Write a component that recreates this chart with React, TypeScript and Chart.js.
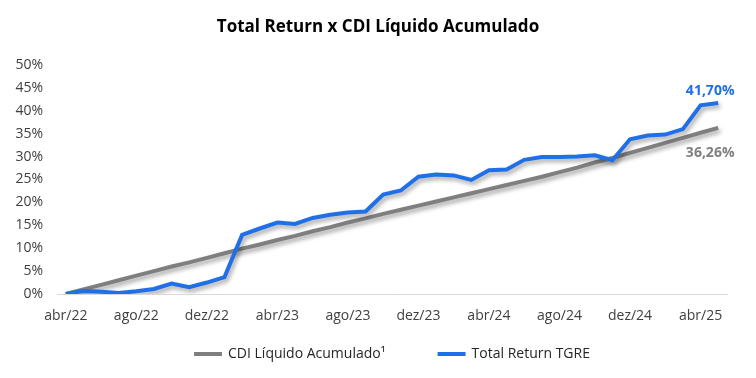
import React, { useEffect, useRef } from "react";
import { Chart, registerables } from "chart.js";

Chart.register(...registerables);

const months = [
  "abr/22","mai/22","jun/22","jul/22","ago/22","set/22","out/22","nov/22","dez/22",
  "jan/23","fev/23","mar/23","abr/23","mai/23","jun/23","jul/23","ago/23","set/23","out/23","nov/23","dez/23",
  "jan/24","fev/24","mar/24","abr/24","mai/24","jun/24","jul/24","ago/24","set/24","out/24","nov/24","dez/24",
  "jan/25","fev/25","mar/25","abr/25","mai/25",
];

const cdiLiquido = [
  0, 1.0, 2.0, 3.0, 4.0, 5.0, 6.0, 6.9, 7.9, 8.9,
  9.9, 10.8, 11.8, 12.7, 13.7, 14.6, 15.6, 16.5, 17.5, 18.4,
  19.3, 20.2, 21.1, 22.0, 22.9, 23.8, 24.7, 25.6, 26.6, 27.6,
  28.7, 29.7, 30.8, 31.9, 33.0, 34.1, 35.2, 36.26,
];

const totalReturn = [
  0, 0.7, 0.5, 0.2, 0.6, 1.1, 2.3, 1.5, 2.5, 3.7,
  12.9, 14.3, 15.6, 15.3, 16.6, 17.3, 17.8, 18.0, 21.7, 22.6,
  25.6, 26.1, 25.9, 24.9, 27.0, 27.2, 29.3, 29.9, 29.9, 30.0,
  30.3, 29.2, 33.8, 34.6, 34.8, 36.0, 41.2, 41.7,
];

const titleText = "Total Return x CDI Líquido Acumulado";
const seriesNames = ["CDI Líquido Acumulado¹", "Total Return TGRE"];
const endLabels = ["36,26%", "41,70%"];
const colors = ["#7F7F7F", "#1F6FE8"];

const FONT = "'Open Sans', 'Noto Sans', sans-serif";

export default function App() {
  const ref = useRef<HTMLCanvasElement | null>(null);

  useEffect(() => {
    if (!ref.current) return;

    const shadowPlugin = {
      id: "shadow",
      beforeDatasetsDraw(chart: any) {
        const ctx = chart.ctx;
        ctx.save();
        ctx.shadowColor = "rgba(0,0,0,0.35)";
        ctx.shadowBlur = 4;
        ctx.shadowOffsetX = 2;
        ctx.shadowOffsetY = 3;
      },
      afterDatasetsDraw(chart: any) {
        chart.ctx.restore();
      },
    };

    const decorPlugin = {
      id: "decor",
      afterDraw(chart: any) {
        const ctx = chart.ctx;
        const area = chart.chartArea;
        ctx.save();
        // title
        ctx.font = `bold 17px ${FONT}`;
        ctx.fillStyle = "#000";
        ctx.textAlign = "center";
        ctx.textBaseline = "middle";
        ctx.fillText(titleText, chart.width / 2, 27);

        // end labels
        const xs = chart.scales.x;
        const ys = chart.scales.y;
        const last = months.length - 1;
        const lx = xs.getPixelForValue(last) - 8;
        ctx.font = `bold 14px ${FONT}`;
        ctx.fillStyle = colors[1];
        ctx.fillText(endLabels[1], lx, ys.getPixelForValue(totalReturn[last]) - 12);
        ctx.fillStyle = colors[0];
        ctx.fillText(endLabels[0], lx, ys.getPixelForValue(cdiLiquido[last]) + 25);

        // legend
        ctx.font = `14px ${FONT}`;
        const lineLen = 28;
        const gapText = 6;
        const gapItems = 52;
        const widths = seriesNames.map((n) => ctx.measureText(n).width);
        const total = widths.reduce((a, w) => a + lineLen + gapText + w, 0) + gapItems;
        let x = (area.left + area.right) / 2 - total / 2;
        const y = 354;
        ctx.textAlign = "left";
        seriesNames.forEach((n, i) => {
          ctx.strokeStyle = colors[i];
          ctx.lineWidth = 4;
          ctx.lineCap = "butt";
          ctx.beginPath();
          ctx.moveTo(x, y);
          ctx.lineTo(x + lineLen, y);
          ctx.stroke();
          ctx.fillStyle = "#262626";
          ctx.fillText(n, x + lineLen + gapText, y);
          x += lineLen + gapText + widths[i] + gapItems;
        });
        ctx.restore();
      },
    };

    const chart = new Chart(ref.current, {
      type: "line",
      data: {
        labels: months,
        datasets: [
          {
            label: seriesNames[0],
            data: cdiLiquido,
            borderColor: colors[0],
            backgroundColor: colors[0],
            borderWidth: 4,
            pointRadius: 0,
            tension: 0,
            order: 1,
          },
          {
            label: seriesNames[1],
            data: totalReturn,
            borderColor: colors[1],
            backgroundColor: colors[1],
            borderWidth: 4,
            pointRadius: 0,
            tension: 0,
            order: 0,
          },
        ],
      },
      options: {
        animation: false,
        responsive: true,
        maintainAspectRatio: false,
        layout: { padding: { top: 65, right: 29, bottom: 44, left: 0 } },
        plugins: {
          legend: { display: false },
          title: { display: false },
          tooltip: { enabled: false },
        },
        scales: {
          x: {
            offset: true,
            grid: { display: false, drawTicks: false },
            border: { display: true, color: "#D9D9D9", width: 1 },
            afterFit: (s: any) => { s.height = 40; },
            ticks: {
              autoSkip: false,
              maxRotation: 0,
              padding: 14,
              color: "#404040",
              font: { family: FONT, size: 14 },
              callback: (_v: any, i: number) => (i % 4 === 0 ? months[i] : ""),
            },
          },
          y: {
            min: 0,
            max: 50,
            grid: { display: false, drawTicks: false },
            border: { display: false },
            afterFit: (s: any) => { s.width = 57; },
            ticks: {
              stepSize: 5,
              padding: 14,
              color: "#404040",
              font: { family: FONT, size: 14 },
              callback: (v: any) => `${v}%`,
            },
          },
        },
      },
      plugins: [shadowPlugin, decorPlugin],
    });

    return () => chart.destroy();
  }, []);

  return (
    <div style={{ position: "fixed", left: 0, top: 0, width: 756, height: 378, background: "#fff" }}>
      <canvas ref={ref} />
    </div>
  );
}
